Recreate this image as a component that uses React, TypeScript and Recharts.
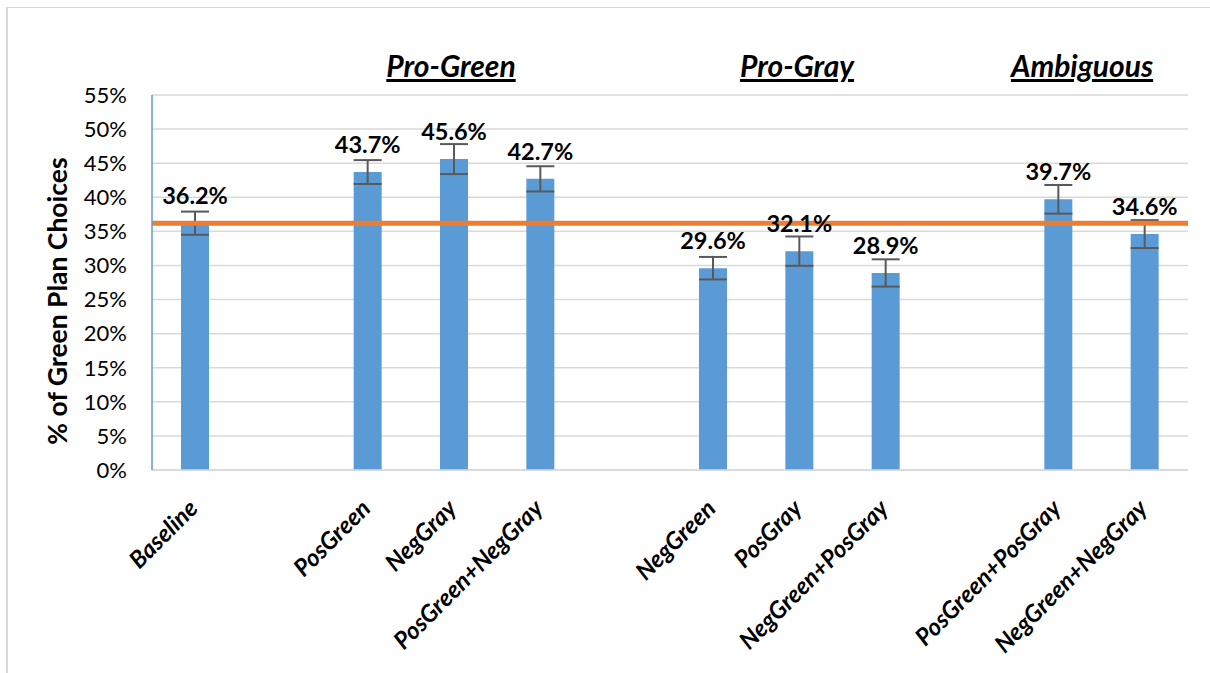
import { BarChart, Bar, XAxis, YAxis, CartesianGrid, ReferenceLine, ErrorBar, LabelList } from 'recharts'

// empty strings are the spacer slots between the groups
const categories = [
  'Baseline', '',
  'PosGreen', 'NegGray', 'PosGreen+NegGray', ' ',
  'NegGreen', 'PosGray', 'NegGreen+PosGray', '  ',
  'PosGreen+PosGray', 'NegGreen+NegGray',
]
const shares = [36.2, null, 43.7, 45.6, 42.7, null, 29.6, 32.1, 28.9, null, 39.7, 34.6]
const errors = [1.7, null, 1.75, 2.2, 1.85, null, 1.65, 2.15, 2.0, null, 2.1, 2.05]
const yTicks = [0, 5, 10, 15, 20, 25, 30, 35, 40, 45, 50, 55]
const baselineShare = 36.2
const groups = [
  { name: 'Pro-Green', x: 451 },
  { name: 'Pro-Gray', x: 797 },
  { name: 'Ambiguous', x: 1082 },
]

const data = categories.map((c, i) => ({ name: c, share: shares[i], err: errors[i] }))

const FONT = 'Lato, "Open Sans", sans-serif'

function XTick(props: any) {
  const { x, y, payload } = props
  const label = String(payload.value).trim()
  if (!label) return null
  return (
    <g transform={`translate(${x + 4},${y + 40})`}>
      <text
        x={0}
        y={0}
        transform="rotate(-45)"
        textAnchor="end"
        fontFamily={FONT}
        fontSize={24}
        fontWeight={700}
        fontStyle="italic"
        fill="#000"
      >
        {label}
      </text>
    </g>
  )
}

function ValueLabel(props: any) {
  const { x, y, width, value } = props
  if (value == null) return null
  return (
    <text
      x={x + width / 2}
      y={y - 19}
      textAnchor="middle"
      fontFamily={FONT}
      fontSize={23.5}
      fontWeight={700}
      fill="#000"
    >
      {`${Number(value).toFixed(1)}%`}
    </text>
  )
}

function YTitle() {
  return (
    <text
      x={67}
      y={301}
      transform="rotate(-90, 67, 301)"
      textAnchor="middle"
      fontFamily={FONT}
      fontSize={26.5}
      fontWeight={700}
      fill="#000"
    >
      % of Green Plan Choices
    </text>
  )
}

export default function App() {
  return (
    <div style={{ position: 'absolute', left: 0, top: 0, width: 1210, height: 673, overflow: 'hidden', background: '#fff' }}>
      <div
        style={{
          position: 'absolute',
          left: 6,
          top: 7,
          width: 1300,
          height: 800,
          borderLeft: '2px solid #D9D9D9',
          borderTop: '1px solid #D9D9D9',
        }}
      />
      {groups.map((g) => (
        <div
          key={g.name}
          style={{
            position: 'absolute',
            left: g.x - 120,
            top: 47,
            width: 240,
            textAlign: 'center',
            fontFamily: FONT,
            fontSize: 30,
            lineHeight: 1.2,
            fontWeight: 700,
            fontStyle: 'italic',
            textDecoration: 'underline',
            color: '#000',
          }}
        >
          {g.name}
        </div>
      ))}
      <div style={{ position: 'absolute', left: 0, top: 0 }}>
        <BarChart width={1210} height={673} data={data} margin={{ top: 95, right: 22, bottom: 0, left: 0 }}>
          <CartesianGrid vertical={false} stroke="#D9D9D9" strokeWidth={1.5} />
          <XAxis
            dataKey="name"
            interval={0}
            tickLine={false}
            tickSize={0}
            tickMargin={0}
            axisLine={{ stroke: '#D9D9D9', strokeWidth: 1.5 }}
            tick={<XTick />}
            height={203}
          />
          <YAxis
            domain={[0, 55]}
            ticks={yTicks}
            interval={0}
            width={152}
            tickLine={false}
            tickSize={0}
            tickMargin={25}
            axisLine={{ stroke: '#5B9BD5', strokeWidth: 1.5 }}
            tickFormatter={(v: number) => `${v}%`}
            tick={{ fontFamily: FONT, fontSize: 22, fill: '#000' }}
            label={<YTitle />}
          />
          <Bar dataKey="share" fill="#5B9BD5" barSize={28} isAnimationActive={false}>
            <ErrorBar dataKey="err" width={14} stroke="#595959" strokeWidth={2} direction="y" />
            <LabelList dataKey="share" content={<ValueLabel />} />
          </Bar>
          <ReferenceLine y={baselineShare} stroke="#ED7D31" strokeWidth={5} />
        </BarChart>
      </div>
    </div>
  )
}
